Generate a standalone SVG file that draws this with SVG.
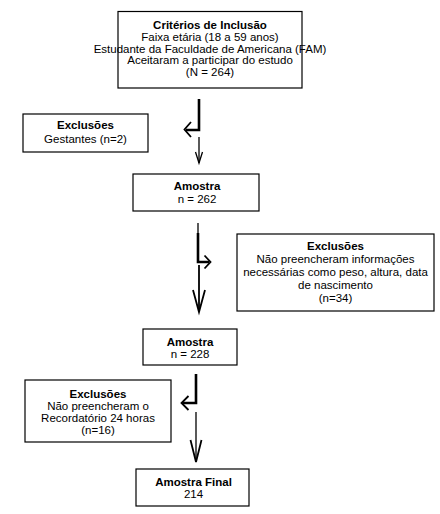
<svg xmlns="http://www.w3.org/2000/svg" width="440" height="514" viewBox="0 0 440 514">
<style>
.box{fill:#fff;stroke:#000;stroke-width:1.2}
text{font-family:"Liberation Sans",Arial,sans-serif;font-size:11.5px;fill:#000;text-anchor:middle}
.b{font-weight:bold}
.thick{fill:none;stroke:#000;stroke-width:2.6;stroke-linecap:butt;stroke-linejoin:miter}
.mid{fill:none;stroke:#000;stroke-width:1.8;stroke-linejoin:miter}
.thin{fill:none;stroke:#000;stroke-width:1.3;stroke-linejoin:miter}
</style>
<rect width="440" height="514" fill="#fff"/>
<g id="connectors">
  <!-- arrow 1 -->
  <path class="thick" d="M199,99 V130 H186"/>
  <path class="mid" d="M191,122 L184.5,129.5 L191,137"/>
  <path class="thin" d="M199,137 V163"/>
  <path class="thin" d="M195.5,152 L199,163 L202.5,152"/>
  <!-- arrow 2 -->
  <path class="thin" d="M198,223 V233"/>
  <path class="thick" d="M198,233 V262 H209"/>
  <path class="mid" d="M204.5,255.5 L210.5,262 L204.5,268.5"/>
  <path class="mid" d="M199,265 V312"/>
  <path class="mid" d="M193,290 L199,312 L205,290"/>
  <!-- arrow 3 -->
  <path class="thick" d="M196,374 V403 H182"/>
  <path class="mid" d="M188.5,396 L181.5,403 L188.5,410"/>
  <path class="thin" d="M196,412 V462"/>
  <path class="mid" d="M190.5,440 L196,462 L201.5,440"/>
</g>
<g id="criterios">
  <rect class="box" x="118" y="11.5" width="184" height="76.5"/>
  <text x="210" y="29" class="b">Critérios de Inclusão</text>
  <text x="210" y="41">Faixa etária (18 a 59 anos)</text>
  <text x="210" y="52.5">Estudante da Faculdade de Americana (FAM)</text>
  <text x="210" y="64">Aceitaram a participar do estudo</text>
  <text x="210" y="76">(N = 264)</text>
</g>
<g id="exclusoes1">
  <rect class="box" x="23" y="114" width="125" height="38"/>
  <text x="85.5" y="129" class="b">Exclusões</text>
  <text x="85.5" y="143">Gestantes (n=2)</text>
</g>
<g id="amostra262">
  <rect class="box" x="133" y="174" width="126" height="37"/>
  <text x="197" y="190" class="b">Amostra</text>
  <text x="197" y="203">n = 262</text>
</g>
<g id="exclusoes2">
  <rect class="box" x="237" y="234" width="197" height="77"/>
  <text x="335.5" y="250" class="b">Exclusões</text>
  <text x="335.5" y="263">Não preencheram informações</text>
  <text x="335.5" y="276">necessárias como peso, altura, data</text>
  <text x="335.5" y="289">de nascimento</text>
  <text x="335.5" y="301.5">(n=34)</text>
</g>
<g id="amostra228">
  <rect class="box" x="143" y="329" width="94" height="36"/>
  <text x="190" y="346" class="b">Amostra</text>
  <text x="190" y="358">n = 228</text>
</g>
<g id="exclusoes3">
  <rect class="box" x="25" y="380" width="146" height="62"/>
  <text x="98" y="397.5" class="b">Exclusões</text>
  <text x="98" y="409.5">Não preencheram o</text>
  <text x="98" y="421.5">Recordatório 24 horas</text>
  <text x="98" y="433.5">(n=16)</text>
</g>
<g id="amostrafinal">
  <rect class="box" x="136" y="469" width="113" height="37"/>
  <text x="193.5" y="486" class="b">Amostra Final</text>
  <text x="193.5" y="498">214</text>
</g>
</svg>
